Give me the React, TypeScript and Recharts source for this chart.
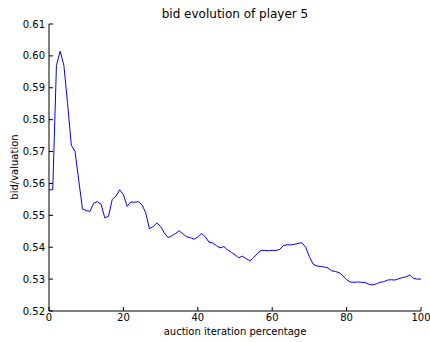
import { LineChart, Line, XAxis, YAxis } from 'recharts'

const iterations = Array.from({ length: 101 }, (_, i) => i)

const bids = [
  0.558, 0.558, 0.597, 0.6015, 0.597, 0.585, 0.572, 0.57, 0.561, 0.552,
  0.5515, 0.5512, 0.5538, 0.5543, 0.5535, 0.5492, 0.5497, 0.555, 0.556, 0.558,
  0.5565, 0.5528, 0.5542, 0.5541, 0.5543, 0.5533, 0.5508, 0.5458, 0.5465, 0.5476,
  0.5465, 0.5445, 0.543, 0.5436, 0.5443, 0.5452, 0.5442, 0.5433, 0.543, 0.5425,
  0.5432, 0.5443, 0.5433, 0.5416, 0.5413, 0.5405, 0.5398, 0.5402, 0.5392, 0.5384,
  0.5376, 0.5367, 0.5372, 0.5364, 0.5357, 0.5367, 0.538, 0.539, 0.539, 0.5389,
  0.539, 0.539, 0.5393, 0.5405, 0.5408, 0.5407, 0.5409, 0.5412, 0.5414, 0.54,
  0.537, 0.5347, 0.5341, 0.534, 0.5338, 0.5335, 0.5326, 0.5324, 0.532, 0.5311,
  0.5298, 0.5291, 0.529, 0.5291, 0.529, 0.5289, 0.5284, 0.5282, 0.5285, 0.529,
  0.5292, 0.5297, 0.5298, 0.5297, 0.5301, 0.5305, 0.5307, 0.5313, 0.5302, 0.53,
  0.53,
]

const xTicks = [0, 20, 40, 60, 80, 100]
const yTicks = [0.52, 0.53, 0.54, 0.55, 0.56, 0.57, 0.58, 0.59, 0.6, 0.61]

const data = iterations.map((x, i) => ({ x, bid: bids[i] }))

const font = '"DejaVu Sans", sans-serif'
const tickStyle = { fill: '#000', fontSize: 10, fontFamily: font }

export default function App() {
  return (
    <div style={{ position: 'absolute', left: 0, top: 0, width: 430, height: 342, background: '#fff' }}>
      <div
        style={{
          position: 'absolute', left: 49, width: 372, top: 7, textAlign: 'center',
          fontFamily: font, fontSize: 12, lineHeight: '14px', color: '#000',
        }}
      >
        bid evolution of player 5
      </div>
      <div
        style={{
          position: 'absolute', left: 49, width: 372, top: 326, textAlign: 'center',
          fontFamily: font, fontSize: 10, lineHeight: '12px', color: '#000',
        }}
      >
        auction iteration percentage
      </div>
      <div style={{ position: 'absolute', left: 15, top: 167, width: 0, height: 0 }}>
        <div
          style={{
            position: 'absolute', transform: 'translate(-50%, -50%) rotate(-90deg)', whiteSpace: 'nowrap',
            fontFamily: font, fontSize: 10, lineHeight: '12px', color: '#000',
          }}
        >
          bid/valuation
        </div>
      </div>
      <LineChart width={430} height={342} data={data} margin={{ top: 24, right: 9, bottom: 0, left: 0 }}>
        <XAxis
          dataKey="x" type="number" domain={[0, 100]} ticks={xTicks} height={31}
          tickSize={-4} tickMargin={7} stroke="#000" tick={tickStyle} interval={0}
        />
        <XAxis
          xAxisId="top" orientation="top" type="number" domain={[0, 100]} ticks={xTicks} height={0}
          tickSize={-4} stroke="#000" tick={{ fill: 'transparent', fontSize: 1 }} interval={0}
        />
        <YAxis
          type="number" domain={[0.52, 0.61]} ticks={yTicks} width={49} interval={0}
          tickSize={-4} tickMargin={8} stroke="#000" tick={tickStyle}
          tickFormatter={(v: number) => v.toFixed(2)}
        />
        <YAxis
          yAxisId="right" orientation="right" type="number" domain={[0.52, 0.61]} ticks={yTicks} width={0}
          tickSize={-4} stroke="#000" tick={{ fill: 'transparent', fontSize: 1 }} interval={0}
        />
        <Line dataKey="bid" stroke="#0000ff" strokeWidth={1} dot={false} isAnimationActive={false} />
        <Line
          dataKey="bid" xAxisId="top" yAxisId="right" stroke="none" dot={false}
          isAnimationActive={false} legendType="none"
        />
      </LineChart>
    </div>
  )
}
